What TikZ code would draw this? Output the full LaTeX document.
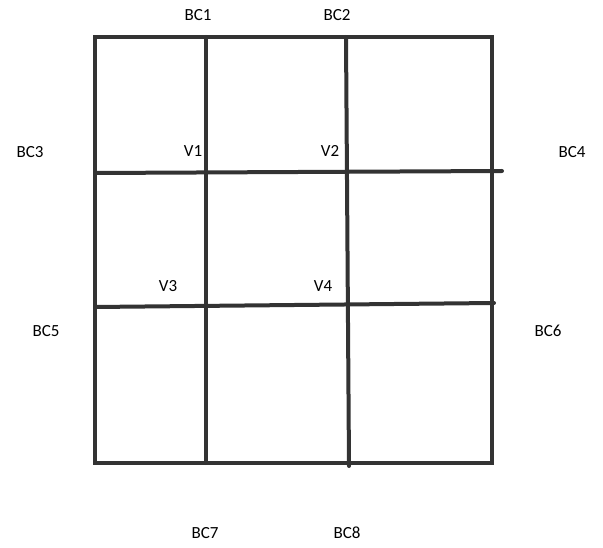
\documentclass[tikz,border=0pt]{standalone}
\usepackage{fontspec}
\setmainfont{Carlito}
\usepackage{tikz}
\usetikzlibrary{positioning,calc}
\definecolor{gridgray}{RGB}{51,51,51}

\tikzset{
    gridline/.style={draw=gridgray, line width=4pt, line cap=round},
    bclabel/.style={font=\fontsize{17}{20}\selectfont, text=black, inner sep=0pt}
}

\begin{document}
\begin{tikzpicture}[x=1pt, y=-1pt]
    \useasboundingbox (0,0) rectangle (603,548);
    % outer square
    \coordinate (tl) at (95,37);
    \coordinate (tr) at (492,37);
    \coordinate (br) at (492,463);
    \coordinate (bl) at (95,463);
    \draw[gridline] (tl) -- (tr) -- (br) -- (bl) -- cycle;
    % inner lines
    \draw[gridline] (206,37) -- (206,463);
    \draw[gridline] (346,37) -- (349,466);
    \draw[gridline] (95,173) -- (502,171);
    \draw[gridline] (95,307) -- (494,303);
    % labels
    \node[bclabel] (bc1) at (198,15) {BC1};
    \node[bclabel] (bc2) at (337,15) {BC2};
    \node[bclabel] (bc3) at (30,152) {BC3};
    \node[bclabel] (bc4) at (572,152) {BC4};
    \node[bclabel] (bc5) at (46,331) {BC5};
    \node[bclabel] (bc6) at (548,331) {BC6};
    \node[bclabel] (bc7) at (205,533) {BC7};
    \node[bclabel] (bc8) at (347,533) {BC8};
    \node[bclabel] (v1) at (193,151) {V1};
    \node[bclabel] (v2) at (330,151) {V2};
    \node[bclabel] (v3) at (168,286) {V3};
    \node[bclabel] (v4) at (323,286) {V4};
\end{tikzpicture}
\end{document}
